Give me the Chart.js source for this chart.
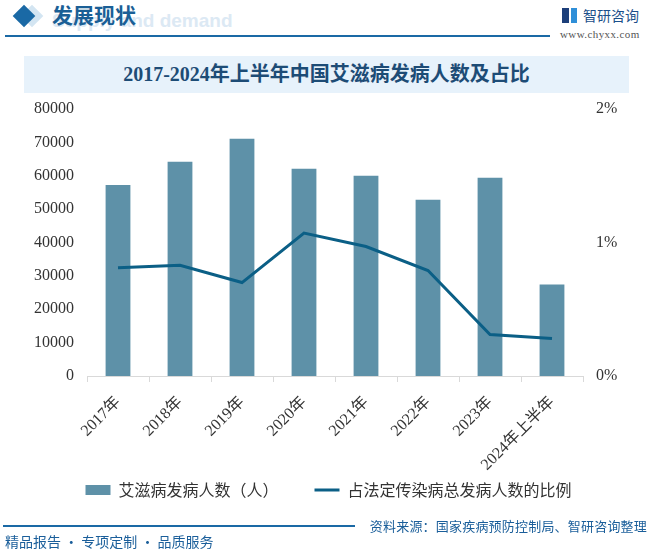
<!DOCTYPE html>
<html lang="zh-CN">
<head>
<meta charset="utf-8">
<title>2017-2024年上半年中国艾滋病发病人数及占比</title>
<script src="https://cdn.jsdelivr.net/npm/chart.js@4.4.1/dist/chart.umd.min.js"></script>
<style>
    html, body { margin: 0; padding: 0; background: #fff; }
    #page { position: relative; width: 657px; height: 550px; overflow: hidden; font-family: "Noto Sans CJK SC", sans-serif; }
    #page div { position: absolute; white-space: nowrap; }
    #chart { position: absolute; left: 0; top: 0; }

    /* cabecera */
    .dia { width: 16px; height: 16px; transform: rotate(45deg); }
    .dia.light { left: 24px; top: 8px; background: #d3e5f2; }
    .dia.dark { left: 16px; top: 8px; background: #1a69a5; }
    #bgword { left: 52px; top: 11px; font: bold 19px/19px "Liberation Sans", sans-serif; color: #dce9f4; }
    #head { left: 52px; top: 4px; font: bold 21px/21px "Noto Sans CJK SC"; color: #1a5f96; }
    #headline { left: 5px; top: 35px; width: 545px; height: 2px; background: #1a69a5; }
    #logo1 { left: 562px; top: 8px; width: 7px; height: 15px; background: #1d3f7a; }
    #logo2 { left: 571px; top: 8px; width: 6px; height: 15px; background: #2f8fd8; }
    #brand { left: 583px; top: 7px; font: 14px/16px "Noto Sans CJK SC"; color: #1b4f8a; }
    #site { left: 560px; top: 28px; font: 11px/13px "Liberation Serif", serif; color: #555; letter-spacing: 0.4px; }

    /* titulo */
    #band { left: 24px; top: 56px; width: 605px; height: 37px; background: #e7f2fb; text-align: center;
            font: bold 20px/37px "Liberation Serif", "Noto Sans CJK SC"; color: #1d4c76; }

    /* pie */
    #footline { left: 3px; top: 525px; width: 352px; height: 2px; background: #1a69a5; }
    #source { right: 10px; top: 517px; font: 13px/17px "Noto Sans CJK SC"; color: #1a5e9a; letter-spacing: 0.2px; }
    #slogan { left: 5px; top: 532px; font: 14px/18px "Noto Sans CJK SC"; color: #1a5e9a; }
</style>
</head>
<body>
<div id="page">
    <div class="dia light"></div>
    <div class="dia dark"></div>
    <div id="bgword">Supply and demand</div>
    <div id="head">发展现状</div>
    <div id="headline"></div>
    <div id="logo1"></div>
    <div id="logo2"></div>
    <div id="brand">智研咨询</div>
    <div id="site">www.chyxx.com</div>
    <div id="band">2017-2024年上半年中国艾滋病发病人数及占比</div>

    <canvas id="chart" width="657" height="550"></canvas>

    <div id="footline"></div>
    <div id="source">资料来源：国家疾病预防控制局、智研咨询整理</div>
    <div id="slogan">精品报告 · 专项定制 · 品质服务</div>
</div>

<script>
// datos
const categories = ["2017年", "2018年", "2019年", "2020年", "2021年", "2022年", "2023年", "2024年上半年"];
const patients = [57200, 64200, 71100, 62100, 60000, 52800, 59400, 27400];
const ratio = [0.81, 0.83, 0.70, 1.07, 0.97, 0.79, 0.31, 0.28];
const barLabel = "艾滋病发病人数（人）";
const lineLabel = "占法定传染病总发病人数的比例";

const tickFont = { family: '"Liberation Serif", "Noto Sans CJK SC"', size: 16 };

// fija el tamaño de la escala y deja que las etiquetas se salgan de su caja
const fixSize = (prop, value) => (scale) => {
    scale[prop] = value;
    scale._computeLabelArea = () => null;
};

new Chart(document.getElementById("chart"), {
    data: {
        labels: categories,
        datasets: [
            {
                type: "bar",
                label: barLabel,
                data: patients,
                yAxisID: "y",
                backgroundColor: "#5e91a8",
                categoryPercentage: 0.8,
                barPercentage: 0.5,
                pointStyle: "rect",
                order: 1,
            },
            {
                type: "line",
                label: lineLabel,
                data: ratio,
                yAxisID: "y1",
                borderColor: "#0b5f86",
                backgroundColor: "#0b5f86",
                borderWidth: 3,
                pointRadius: 0,
                pointHoverRadius: 0,
                pointStyle: "line",
                tension: 0,
                order: 0,
            },
        ],
    },
    options: {
        responsive: false,
        animation: false,
        layout: { padding: { left: 0, right: 0, top: 109, bottom: 42 } },
        plugins: {
            legend: {
                position: "bottom",
                reverse: true,
                labels: {
                    usePointStyle: true,
                    pointStyleWidth: 25,
                    boxHeight: 10,
                    padding: 36,
                    color: "#333",
                    font: { family: '"Noto Sans CJK SC"', size: 16 },
                },
            },
            tooltip: { enabled: false },
        },
        scales: {
            x: {
                offset: true,
                grid: { display: true, offset: true, drawOnChartArea: false, drawTicks: true, tickLength: 6, color: "#d9d9d9" },
                border: { display: true, color: "#d9d9d9" },
                ticks: { autoSkip: false, minRotation: 45, maxRotation: 45, padding: 11, color: "#333", font: tickFont },
                afterFit: fixSize("height", 70),
            },
            y: {
                position: "left",
                min: 0,
                max: 80000,
                grid: { display: false, drawTicks: false },
                border: { display: false },
                ticks: { stepSize: 10000, padding: 13, color: "#333", font: tickFont, callback: (v) => String(v) },
                afterFit: fixSize("width", 87),
            },
            y1: {
                position: "right",
                min: 0,
                max: 2,
                grid: { display: false, drawTicks: false },
                border: { display: false },
                ticks: { stepSize: 1, padding: 13, color: "#333", font: tickFont, callback: (v) => v + "%" },
                afterFit: fixSize("width", 74),
            },
        },
    },
});
</script>
</body>
</html>
